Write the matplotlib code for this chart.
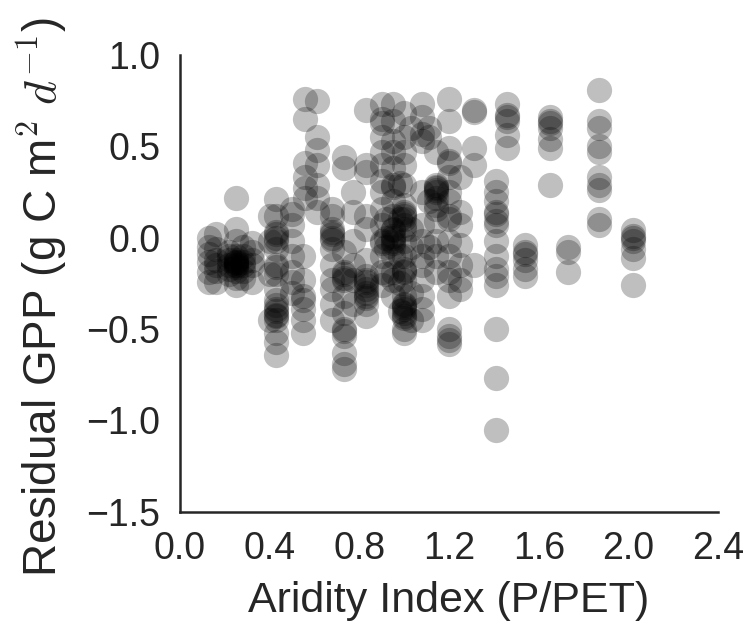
import matplotlib
matplotlib.use("Agg")
import matplotlib.pyplot as plt
import numpy as np

# aridity index of each site (column) and the residual GPP values read at that site
site_ai = [0.13, 0.16, 0.22, 0.25, 0.28, 0.32, 0.40, 0.43, 0.50, 0.55, 0.56,
           0.61, 0.68, 0.73, 0.77, 0.83, 0.90, 0.92, 0.95, 0.98, 1.00, 1.03,
           1.08, 1.11, 1.14, 1.20, 1.25, 1.31, 1.41, 1.46, 1.54, 1.65, 1.73,
           1.87, 2.02]

site_resid = [
    [0.0, -0.05, -0.13, -0.19, -0.24, -0.09],
    [0.02, -0.06, -0.12, -0.15, -0.24, -0.18],
    [-0.08, -0.12, -0.15, -0.20, -0.10, -0.17],
    [0.22, 0.05, -0.02, -0.10, -0.12, -0.13, -0.14, -0.15, -0.16, -0.18, -0.22, -0.26, -0.13, -0.15],
    [-0.05, -0.10, -0.15, -0.18, -0.22, -0.13],
    [-0.03, -0.08, -0.15, -0.24, -0.12],
    [0.12, -0.02, -0.20, -0.45],
    [0.21, 0.12, 0.03, 0.02, 0.0, -0.02, -0.06, -0.15, -0.16, -0.20, -0.28, -0.34, -0.39,
     -0.42, -0.43, -0.45, -0.52, -0.57, -0.64, -0.40, -0.37],
    [0.16, 0.13, 0.07, -0.02, -0.10, -0.19, -0.24, -0.30],
    [-0.10, -0.23, -0.32, -0.34, -0.39, -0.45, -0.52],
    [0.76, 0.65, 0.41, 0.33, 0.27, 0.22],
    [0.75, 0.55, 0.48, 0.40, 0.29, 0.22, 0.14],
    [0.16, 0.12, 0.05, 0.03, 0.02, 0.0, -0.01, -0.06, -0.15, -0.23, -0.28, -0.36, -0.45],
    [0.44, 0.38, -0.08, -0.19, -0.20, -0.22, -0.23, -0.32, -0.41, -0.50, -0.51, -0.54, -0.63, -0.69, -0.72],
    [0.25, 0.14, -0.02, -0.15, -0.23, -0.36],
    [0.70, 0.40, 0.36, 0.12, 0.05, -0.12, -0.21, -0.23, -0.24, -0.26, -0.28, -0.30, -0.32,
     -0.33, -0.36, -0.43],
    [0.73, 0.65, 0.63, 0.55, 0.47, 0.40, 0.31, 0.25, 0.16, 0.07, -0.02, -0.03, -0.10, -0.19, -0.26],
    [0.10, 0.0, -0.05, -0.20],
    [0.73, 0.64, 0.53, 0.47, 0.38, 0.29, 0.28, 0.20, 0.12, 0.05, 0.04, 0.01, 0.0, -0.02, -0.03,
     -0.05, -0.10, -0.19, -0.23, -0.32],
    [0.30, 0.10, -0.10, -0.25, -0.40],
    [0.68, 0.55, 0.47, 0.40, 0.29, 0.18, 0.14, 0.13, 0.12, 0.10, 0.07, 0.05, -0.02, -0.10, -0.17,
     -0.18, -0.19, -0.23, -0.32, -0.36, -0.37, -0.38, -0.39, -0.41, -0.43, -0.44, -0.50, -0.52],
    [0.60, 0.05, -0.05, -0.30, -0.45],
    [0.73, 0.66, 0.57, 0.53, 0.25, 0.07, -0.02, -0.10, -0.15, -0.23, -0.32, -0.39, -0.45],
    [0.60, 0.55, 0.20, -0.05],
    [0.47, 0.29, 0.28, 0.27, 0.26, 0.22, 0.16, 0.09, -0.02, -0.10, -0.19, 0.25, 0.18],
    [0.76, 0.64, 0.49, 0.42, 0.41, 0.33, 0.25, 0.20, 0.12, 0.10, -0.02, -0.10, -0.19, -0.23,
     -0.32, -0.50, -0.54, -0.56, -0.58],
    [0.33, 0.14, 0.07, -0.04, -0.15, -0.23, -0.28],
    [0.70, 0.69, 0.49, 0.40, -0.15],
    [0.31, 0.25, 0.20, 0.14, 0.13, 0.09, 0.07, -0.02, -0.10, -0.17, -0.21, -0.26, -0.50, -0.77, -1.05],
    [0.73, 0.67, 0.66, 0.64, 0.56, 0.49],
    [-0.04, -0.08, -0.09, -0.12, -0.17, -0.21],
    [0.66, 0.64, 0.63, 0.60, 0.54, 0.49, 0.29],
    [-0.05, -0.08, -0.19],
    [0.81, 0.64, 0.60, 0.50, 0.47, 0.33, 0.29, 0.26, 0.10, 0.07],
    [0.04, 0.01, 0.0, -0.02, -0.06, -0.11, -0.26],
]

aridity = np.concatenate([[x] * len(ys) for x, ys in zip(site_ai, site_resid)])
residual = np.concatenate(site_resid)

plt.rcParams['font.family'] = ['Liberation Sans', 'DejaVu Sans']
plt.rcParams['mathtext.fontset'] = 'cm'
text_color = '#262626'

fig = plt.figure(figsize=(7.49, 6.25), dpi=100)
ax = fig.add_axes([0.240, 0.181, 0.719, 0.731])

ax.scatter(aridity, residual, s=330, color='black', alpha=0.25, linewidths=0)

ax.set_xlim(0.0, 2.4)
ax.set_ylim(-1.5, 1.0)
xt = np.arange(0.0, 2.41, 0.4)
yt = np.arange(-1.5, 1.01, 0.5)
ax.set_xticks(xt)
ax.set_yticks(yt)
ax.set_xticklabels([f"{v:.1f}" for v in xt])
ax.set_yticklabels([f"{v:.1f}".replace('-', '\u2212') for v in yt])

for side in ['top', 'right']:
    ax.spines[side].set_visible(False)
for side in ['left', 'bottom']:
    ax.spines[side].set_linewidth(1.8)
    ax.spines[side].set_color(text_color)

ax.tick_params(axis='both', length=0, labelsize=27, colors=text_color, pad=14)
ax.set_xlabel('Aridity Index (P/PET)', fontsize=31, color=text_color, labelpad=10)
ax.set_ylabel('Residual GPP (g C m$^2$ $d^{-1}$)', fontsize=33, color=text_color)
ax.yaxis.set_label_coords(-0.205, 0.47)

fig.savefig('out.png', dpi=100)
